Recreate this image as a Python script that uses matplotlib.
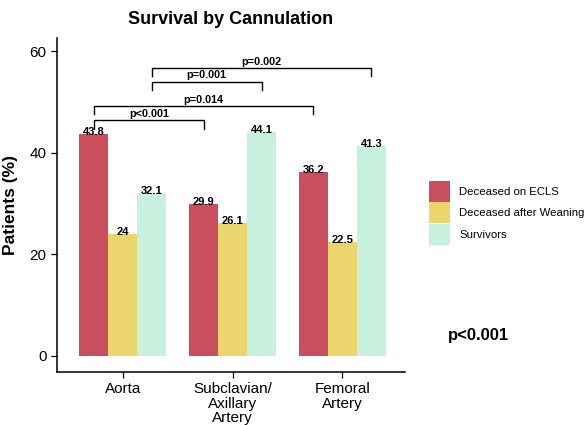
import numpy as np
import matplotlib.pyplot as plt
from matplotlib.patches import Patch

plt.rcParams["font.family"] = ["Liberation Sans", "DejaVu Sans"]

categories = ["Aorta", "Subclavian/\nAxillary\nArtery", "Femoral\nArtery"]
series = ["Deceased on ECLS", "Deceased after Weaning", "Survivors"]
deceased_ecls = [43.8, 29.9, 36.2]
deceased_weaning = [24, 26.1, 22.5]
survivors = [32.1, 44.1, 41.3]
value_labels = [["43.8", "29.9", "36.2"], ["24", "26.1", "22.5"], ["32.1", "44.1", "41.3"]]
colors = ["#C94F5E", "#EDD56E", "#C8F0DF"]

# brackets: (group a, series a, group b, series b, height, label)
brackets = [
    (0, 0, 1, 0, 46.4, "p<0.001"),
    (0, 0, 2, 0, 49.2, "p=0.014"),
    (0, 2, 1, 2, 54.0, "p=0.001"),
    (0, 2, 2, 2, 56.7, "p=0.002"),
]
overall_p = "p<0.001"

fig = plt.figure(figsize=(5.87, 4.25), dpi=100)
ax = fig.add_axes([0.097, 0.125, 0.593, 0.785])

x = np.arange(1, len(categories) + 1)
w = 0.264
data = [deceased_ecls, deceased_weaning, survivors]
for i, vals in enumerate(data):
    pos = x + (i - 1) * w
    ax.bar(pos, vals, width=w, color=colors[i], linewidth=0)
    for p, v, lab in zip(pos, vals, value_labels[i]):
        ax.text(p, v - 0.6, lab, ha="center", va="bottom",
                fontsize=8, fontweight="bold")

tail = 1.6
for ga, sa, gb, sb, h, lab in brackets:
    xa = x[ga] + (sa - 1) * w
    xb = x[gb] + (sb - 1) * w
    ax.plot([xa, xa, xb, xb], [h - tail, h, h, h - tail],
            color="black", linewidth=1)
    ax.text((xa + xb) / 2, h + 0.3, lab, ha="center", va="bottom",
            fontsize=7.8, fontweight="bold")

ax.set_xlim(0.4, 3.57)
ax.set_ylim(-3.2, 62.6)
ax.set_yticks([0, 20, 40, 60])
ax.set_xticks(x)
ax.set_xticklabels(categories, fontsize=11, linespacing=1.05)
ax.tick_params(axis="both", labelsize=11, length=4, width=0.9)
ax.set_ylabel("Patients (%)", fontsize=12.5, fontweight="bold", labelpad=8)
ax.set_title("Survival by Cannulation", fontsize=13, fontweight="bold", pad=10)

for s in ["top", "right"]:
    ax.spines[s].set_visible(False)
for s in ["left", "bottom"]:
    ax.spines[s].set_linewidth(1.1)

handles = [Patch(facecolor=c, edgecolor="none") for c in colors]
fig.legend(handles, series, loc="upper left", bbox_to_anchor=(0.731, 0.575),
           frameon=False, fontsize=8.2, handlelength=1.85, handleheight=2.45,
           handletextpad=0.78, labelspacing=0.05, borderaxespad=0,
           borderpad=0)

fig.text(0.815, 0.21, overall_p, ha="center", va="center",
         fontsize=12, fontweight="bold")

fig.savefig("out.png", dpi=100)
